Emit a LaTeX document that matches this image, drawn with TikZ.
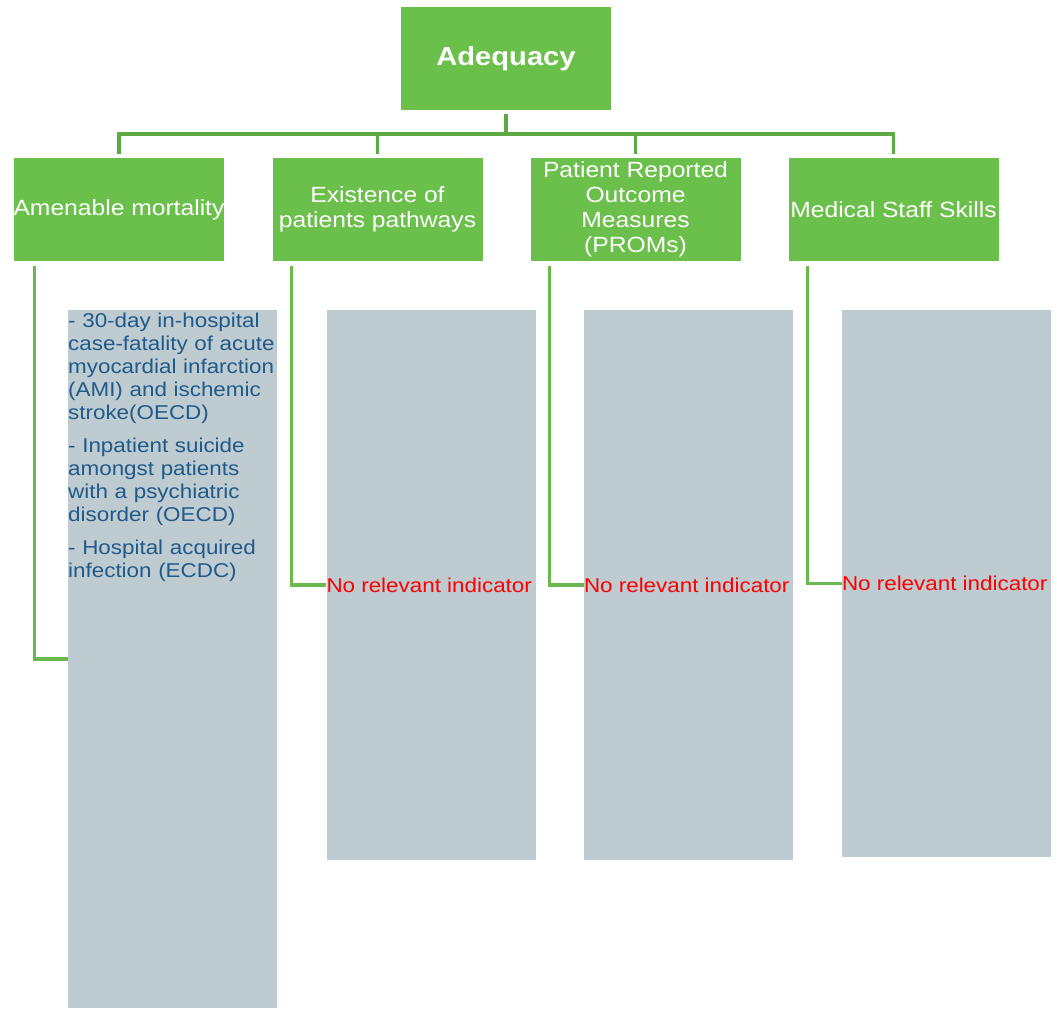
\documentclass[tikz,border=0pt]{standalone}
\usepackage{fontspec}
\setmainfont{Liberation Sans}[FakeStretch=1.12]
\definecolor{boxgreen}{HTML}{6BBF4B}
\definecolor{linegreen}{HTML}{5DAA44}
\definecolor{sidegreen}{HTML}{6AB84E}
\definecolor{panelgrey}{HTML}{BECBD0}
\definecolor{textblue}{HTML}{1F5A8A}
\definecolor{alertred}{HTML}{FF0000}
\begin{document}
\begin{tikzpicture}[x=1pt,y=-1pt,
  greenbox/.style={fill=boxgreen,draw=none,minimum width=210pt,minimum height=103pt,inner sep=0pt,align=center,text=white},
  titletext/.style={font=\fontsize{26}{30}\selectfont\bfseries},
  childtext/.style={font=\fontsize{22}{25}\selectfont},
  panel/.style={fill=panelgrey,draw=none,minimum width=209pt,inner sep=0pt},
  treeline/.style={draw=linegreen,line width=3.5pt},
  sideline/.style={draw=sidegreen,line width=3.5pt},
  bluetext/.style={text=textblue,font=\fontsize{20}{23}\selectfont,align=left,text width=230pt,inner sep=0pt,anchor=north west},
  redtext/.style={text=alertred,font=\fontsize{20}{23}\selectfont,inner sep=0pt,anchor=west}
]
\useasboundingbox (0,0) rectangle (1057,1010);

% top node
\node[greenbox,titletext] (top) at (506,58.5) {Adequacy};

% children
\node[greenbox,childtext] (c1) at (119,209.5) {Amenable mortality};
\node[greenbox,childtext] (c2) at (377.5,209.5) {Existence of\\patients pathways};
\node[greenbox,childtext] (c3) at (635.5,209.5) {Patient Reported\\Outcome\\Measures\\(PROMs)};
\node[greenbox,childtext] (c4) at (893.5,209.5) {Medical Staff Skills};

% tree connectors
\coordinate (hub) at (506,134);
\draw[treeline] ([yshift=-4pt]top.south) -- (hub);
\draw[treeline] ([yshift=4pt]c1.north) |- (hub);
\draw[treeline] ([yshift=4pt]c2.north) |- (hub);
\draw[treeline] ([yshift=4pt]c3.north) |- (hub);
\draw[treeline] ([yshift=4pt]c4.north) |- (hub);

% grey panels
\node[panel,minimum height=698pt] (g1) at (172.5,659) {};
\node[panel,minimum height=550pt] (g2) at (431,585) {};
\node[panel,minimum height=550pt] (g3) at (688.5,585) {};
\node[panel,minimum height=547pt] (g4) at (946.5,583.5) {};

% side connectors
\draw[sideline] ([xshift=21pt,yshift=-5pt]c1.south west) |- (g1.west);
\draw[sideline] ([xshift=19pt,yshift=-5pt]c2.south west) |- (g2.west);
\draw[sideline] ([xshift=19pt,yshift=-5pt]c3.south west) |- (g3.west);
\draw[sideline] ([xshift=19pt,yshift=-5pt]c4.south west) |- (g4.west);

% panel texts
\node[bluetext] (t1) at (68,313) {- 30-day in-hospital\\case-fatality of acute\\myocardial infarction\\(AMI) and ischemic\\stroke(OECD)\\[10pt]- Inpatient suicide\\amongst patients\\with a psychiatric\\disorder (OECD)\\[10pt]- Hospital acquired\\infection (ECDC)};
\node[redtext] (t2) at (g2.west) {No relevant indicator};
\node[redtext] (t3) at (g3.west) {No relevant indicator};
\node[redtext] (t4) at (g4.west) {No relevant indicator};
\end{tikzpicture}
\end{document}
